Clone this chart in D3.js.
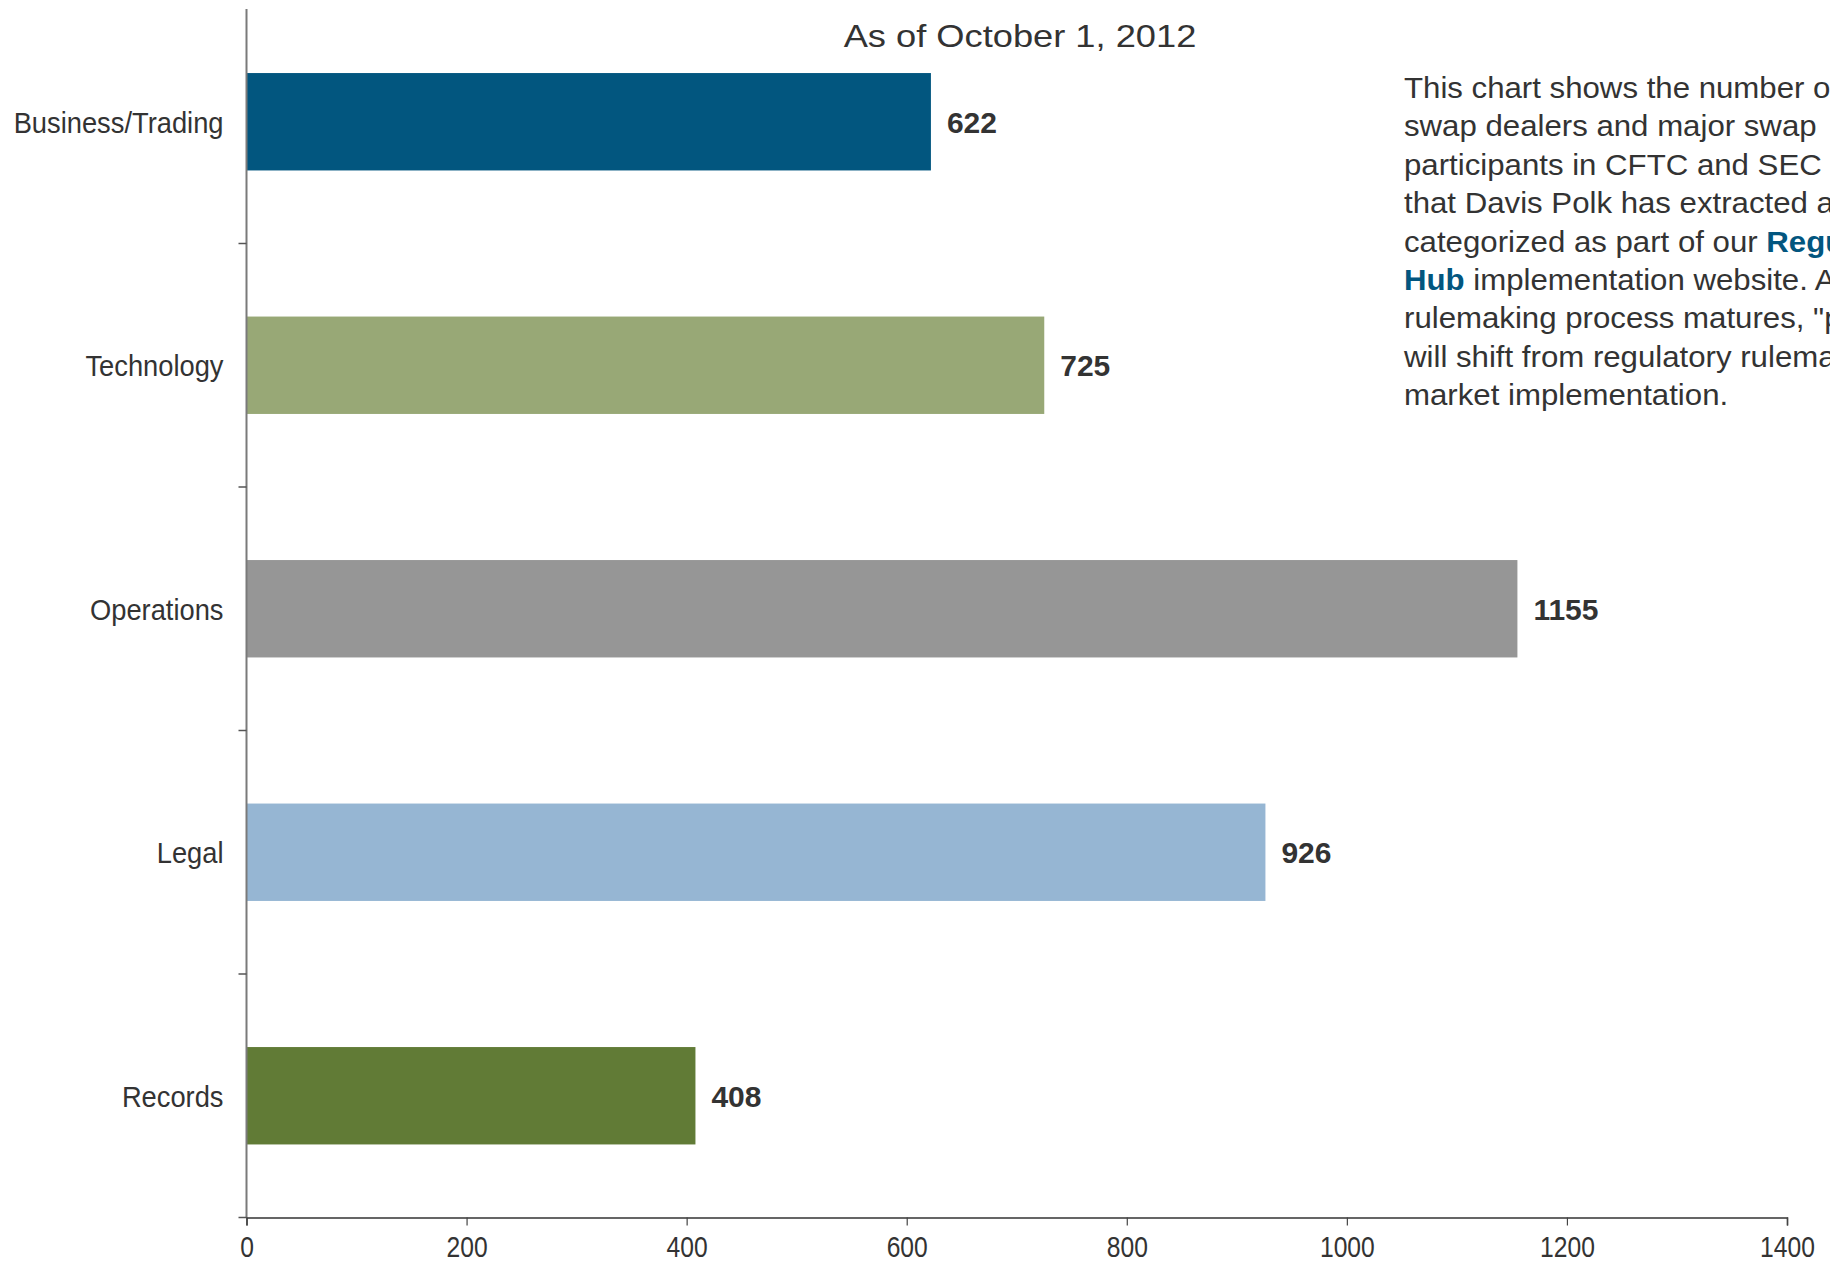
<!DOCTYPE html>
<html>
<head>
<meta charset="utf-8">
<script src="https://cdn.jsdelivr.net/npm/d3@7"></script>
<style>
  html, body { margin: 0; padding: 0; background: #fff; }
  svg { display: block; }
  text { font-family: "Liberation Sans", Arial, Helvetica, sans-serif; }
</style>
</head>
<body>
<svg id="chart" width="1830" height="1263"></svg>
<script>
// Requirement counts by function, as of October 1, 2012
const categories = ["Business/Trading", "Technology", "Operations", "Legal", "Records"];
const counts = [622, 725, 1155, 926, 408];
const barColors = ["#02567f", "#98a876", "#969696", "#96b6d3", "#617b36"];
const xTicks = [0, 200, 400, 600, 800, 1000, 1200, 1400];
const title = "As of October 1, 2012";
const noteLines = [
  [["This chart shows the number of", false]],
  [["swap dealers and major swap", false]],
  [["participants in CFTC and SEC rules", false]],
  [["that Davis Polk has extracted and", false]],
  [["categorized as part of our ", false], ["Regulatory", true]],
  [["Hub", true], [" implementation website. As the", false]],
  [["rulemaking process matures, \"pressure points\"", false]],
  [["will shift from regulatory rulemaking to", false]],
  [["market implementation.", false]]
];

const svg = d3.select("#chart");
const margin = { left: 246.5, right: 1787, top: 0, bottom: 1217.5 };

const x = d3.scaleLinear().domain([0, 1400]).range([margin.left, margin.right]);
const y = d3.scaleBand().domain(categories).range([margin.top, margin.bottom]).padding(0);
const barH = y.step() * 0.4;

// Bars
svg.append("g").selectAll("rect")
  .data(categories)
  .join("rect")
  .attr("x", x(0))
  .attr("y", d => y(d) + (y.step() - barH) / 2)
  .attr("width", (d, i) => x(counts[i]) - x(0))
  .attr("height", barH)
  .attr("fill", (d, i) => barColors[i]);

// Value labels
svg.append("g").selectAll("text")
  .data(categories)
  .join("text")
  .attr("x", (d, i) => x(counts[i]) + 16)
  .attr("y", d => y(d) + y.step() / 2 + 11)
  .attr("font-size", 30)
  .attr("font-weight", "bold")
  .attr("fill", "#333")
  .text((d, i) => counts[i]);

// Left axis: line, category boundary ticks and labels
const yAxis = svg.append("g");
yAxis.append("line")
  .attr("x1", margin.left).attr("x2", margin.left)
  .attr("y1", 9).attr("y2", margin.bottom)
  .attr("stroke", "#7a7a7a").attr("stroke-width", 2);
const boundaries = categories.slice(1).map(c => y(c)).concat([margin.bottom]);
yAxis.selectAll("line.tick")
  .data(boundaries)
  .join("line")
  .attr("class", "tick")
  .attr("x1", margin.left - 8).attr("x2", margin.left)
  .attr("y1", d => d).attr("y2", d => d)
  .attr("stroke", "#555").attr("stroke-width", 1.5);
yAxis.selectAll("text")
  .data(categories)
  .join("text")
  .attr("text-anchor", "end")
  .attr("transform", d => `translate(${margin.left - 23},${y(d) + y.step() / 2 + 11}) scale(0.91,1)`)
  .attr("font-size", 30)
  .attr("fill", "#333")
  .text(d => d);

// Bottom axis
const xAxisG = svg.append("g")
  .attr("transform", `translate(0,${margin.bottom})`)
  .call(d3.axisBottom(x).tickValues(xTicks).tickSize(8).tickPadding(11).tickFormat(d3.format("d")));
xAxisG.select(".domain").attr("stroke", "#333").attr("stroke-width", 1.5);
xAxisG.selectAll(".tick line").attr("stroke", "#444").attr("stroke-width", 1.2);
xAxisG.selectAll(".tick text")
  .attr("font-family", "'Liberation Sans', Arial, sans-serif")
  .attr("font-size", 29)
  .attr("fill", "#333")
  .attr("dy", "0.71em")
  .attr("transform", "scale(0.85,1)");

// Title
svg.append("text")
  .attr("text-anchor", "middle")
  .attr("transform", "translate(1020,47) scale(1.17,1)")
  .attr("font-size", 31)
  .attr("font-weight", 300)
  .attr("fill", "#333")
  .text(title);

// Side note
const note = svg.append("text")
  .attr("transform", "translate(1404,0) scale(1.04,1)")
  .attr("font-size", 30)
  .attr("fill", "#333");
noteLines.forEach((parts, i) => {
  parts.forEach(([txt, link], j) => {
    const span = note.append("tspan").text(txt);
    if (j === 0) span.attr("x", 0).attr("y", 98 + i * 38.4);
    if (link) span.attr("font-weight", "bold").attr("fill", "#02567f");
  });
});
</script>
</body>
</html>
